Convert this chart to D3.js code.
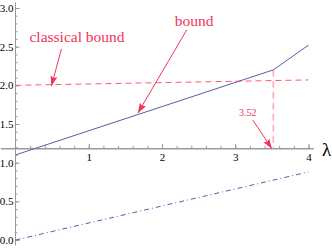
<!DOCTYPE html>
<html>
<head>
<meta charset="utf-8">
<script src="https://cdn.jsdelivr.net/npm/d3@7"></script>
<style>
  body { margin: 0; background: #fff; }
  text { font-family: "Liberation Serif", "DejaVu Serif", serif; }
</style>
</head>
<body>
<div id="chart"></div>
<script>
// data
var boundLambda = [0, 3.52, 4];
var boundValue = [1.1, 2.2, 2.52];
var classicalLambda = [0, 4];
var classicalValue = [2.0, 2.07];
var lowerLambda = [0, 4];
var lowerValue = [0, 0.88];
var kinkLambda = 3.52;
var xTicks = [1, 2, 3, 4];
var yTicks = [0, 0.5, 1, 1.5, 2, 2.5, 3];

var width = 332, height = 249;
var axisY = 1.18; // value where the lambda axis crosses

var svg = d3.select("#chart").append("svg")
    .attr("width", width)
    .attr("height", height);

var x = d3.scaleLinear().domain([0, 4]).range([15.5, 308.5]);
var y = d3.scaleLinear().domain([0, 3]).range([240, 8]);

var red = "#f2335a";
var blue = "#5b5ba8";

// arrow head
svg.append("defs").append("marker")
    .attr("id", "head")
    .attr("viewBox", "0 0 10 10")
    .attr("refX", 10).attr("refY", 5)
    .attr("markerWidth", 10).attr("markerHeight", 10)
    .attr("markerUnits", "userSpaceOnUse")
    .attr("orient", "auto")
    .append("path")
    .attr("d", "M0,1.5L10,5L0,8.5L1.5,5Z")
    .attr("fill", red);

// axes lines
var gray = "#999";
svg.append("line")
    .attr("x1", x(0)).attr("x2", x(0))
    .attr("y1", y(3.07)).attr("y2", y(-0.07))
    .attr("stroke", gray);
svg.append("line")
    .attr("x1", x(-0.2)).attr("x2", x(4.07))
    .attr("y1", y(axisY)).attr("y2", y(axisY))
    .attr("stroke", gray).attr("stroke-width", 1.3);

// y axis ticks (pointing inward)
var yMinor = d3.range(0, 3.001, 0.1);
svg.append("g")
    .attr("transform", "translate(" + x(0) + ",0)")
    .call(d3.axisLeft(y).tickValues(yMinor).tickFormat("").tickSizeInner(-2).tickSizeOuter(0))
    .call(function(g) { g.select(".domain").remove(); g.selectAll("line").attr("stroke", gray); });
svg.append("g")
    .attr("transform", "translate(" + x(0) + ",0)")
    .call(d3.axisLeft(y).tickValues(yTicks).tickFormat(d3.format(".1f")).tickSizeInner(-4).tickSizeOuter(0).tickPadding(2))
    .call(function(g) {
        g.select(".domain").remove();
        g.selectAll("line").attr("stroke", gray);
        g.selectAll("text").attr("fill", "#000").style("font-size", "11px")
            .style("font-family", "'Liberation Serif', serif");
    });

// x axis ticks (pointing up)
var xMinor = d3.range(0.2, 4.001, 0.2);
svg.append("g")
    .attr("transform", "translate(0," + y(axisY) + ")")
    .call(d3.axisBottom(x).tickValues(xMinor).tickFormat("").tickSizeInner(-3).tickSizeOuter(0))
    .call(function(g) { g.select(".domain").remove(); g.selectAll("line").attr("stroke", gray); });
svg.append("g")
    .attr("transform", "translate(0," + y(axisY) + ")")
    .call(d3.axisBottom(x).tickValues(xTicks).tickFormat(d3.format("d")).tickSizeInner(-5).tickSizeOuter(0).tickPadding(4))
    .call(function(g) {
        g.select(".domain").remove();
        g.selectAll("line").attr("stroke", gray);
        g.selectAll("text").attr("fill", "#000").style("font-size", "11px")
            .style("font-family", "'Liberation Serif', serif");
    });

svg.append("text")
    .attr("x", 322).attr("y", y(axisY) + 7)
    .style("font-size", "19px")
    .text("λ");

var line = d3.line()
    .x(function(d) { return x(d[0]); })
    .y(function(d) { return y(d[1]); });

// classical bound (red dashed)
svg.append("path")
    .datum(d3.zip(classicalLambda, classicalValue))
    .attr("d", line)
    .attr("fill", "none")
    .attr("stroke", "#ff5a70")
    .attr("stroke-width", 1)
    .attr("stroke-dasharray", "6,4");

// vertical marker at the kink
svg.append("path")
    .datum([[kinkLambda, boundValue[1]], [kinkLambda, axisY]])
    .attr("d", line)
    .attr("fill", "none")
    .attr("stroke", "#ffaab8")
    .attr("stroke-width", 1.6)
    .attr("stroke-dasharray", "7,4");

// bound (solid)
svg.append("path")
    .datum(d3.zip(boundLambda, boundValue))
    .attr("d", line)
    .attr("fill", "none")
    .attr("stroke", blue)
    .attr("stroke-width", 1);

// lower (dash-dot)
svg.append("path")
    .datum(d3.zip(lowerLambda, lowerValue))
    .attr("d", line)
    .attr("fill", "none")
    .attr("stroke", blue)
    .attr("stroke-width", 1)
    .attr("stroke-dasharray", "5,3,1,3");

// annotations
function arrow(l1, v1, l2, v2) {
    svg.append("line")
        .attr("x1", x(l1)).attr("y1", y(v1))
        .attr("x2", x(l2)).attr("y2", y(v2))
        .attr("stroke", red)
        .attr("stroke-width", 1)
        .attr("marker-end", "url(#head)");
}

svg.append("text")
    .attr("x", x(0.84)).attr("y", y(2.56))
    .attr("text-anchor", "middle")
    .attr("fill", red)
    .style("font-size", "15.5px")
    .text("classical bound");
arrow(0.627, 2.47, 0.49, 1.99);

svg.append("text")
    .attr("x", x(2.44)).attr("y", y(2.77))
    .attr("text-anchor", "middle")
    .attr("fill", red)
    .style("font-size", "15.5px")
    .text("bound");
arrow(2.34, 2.72, 1.67, 1.64);

svg.append("text")
    .attr("x", x(3.17)).attr("y", y(1.6))
    .attr("text-anchor", "middle")
    .attr("fill", red)
    .style("font-size", "10px")
    .text("3.52");
arrow(3.24, 1.55, 3.5, axisY);
</script>
</body>
</html>
